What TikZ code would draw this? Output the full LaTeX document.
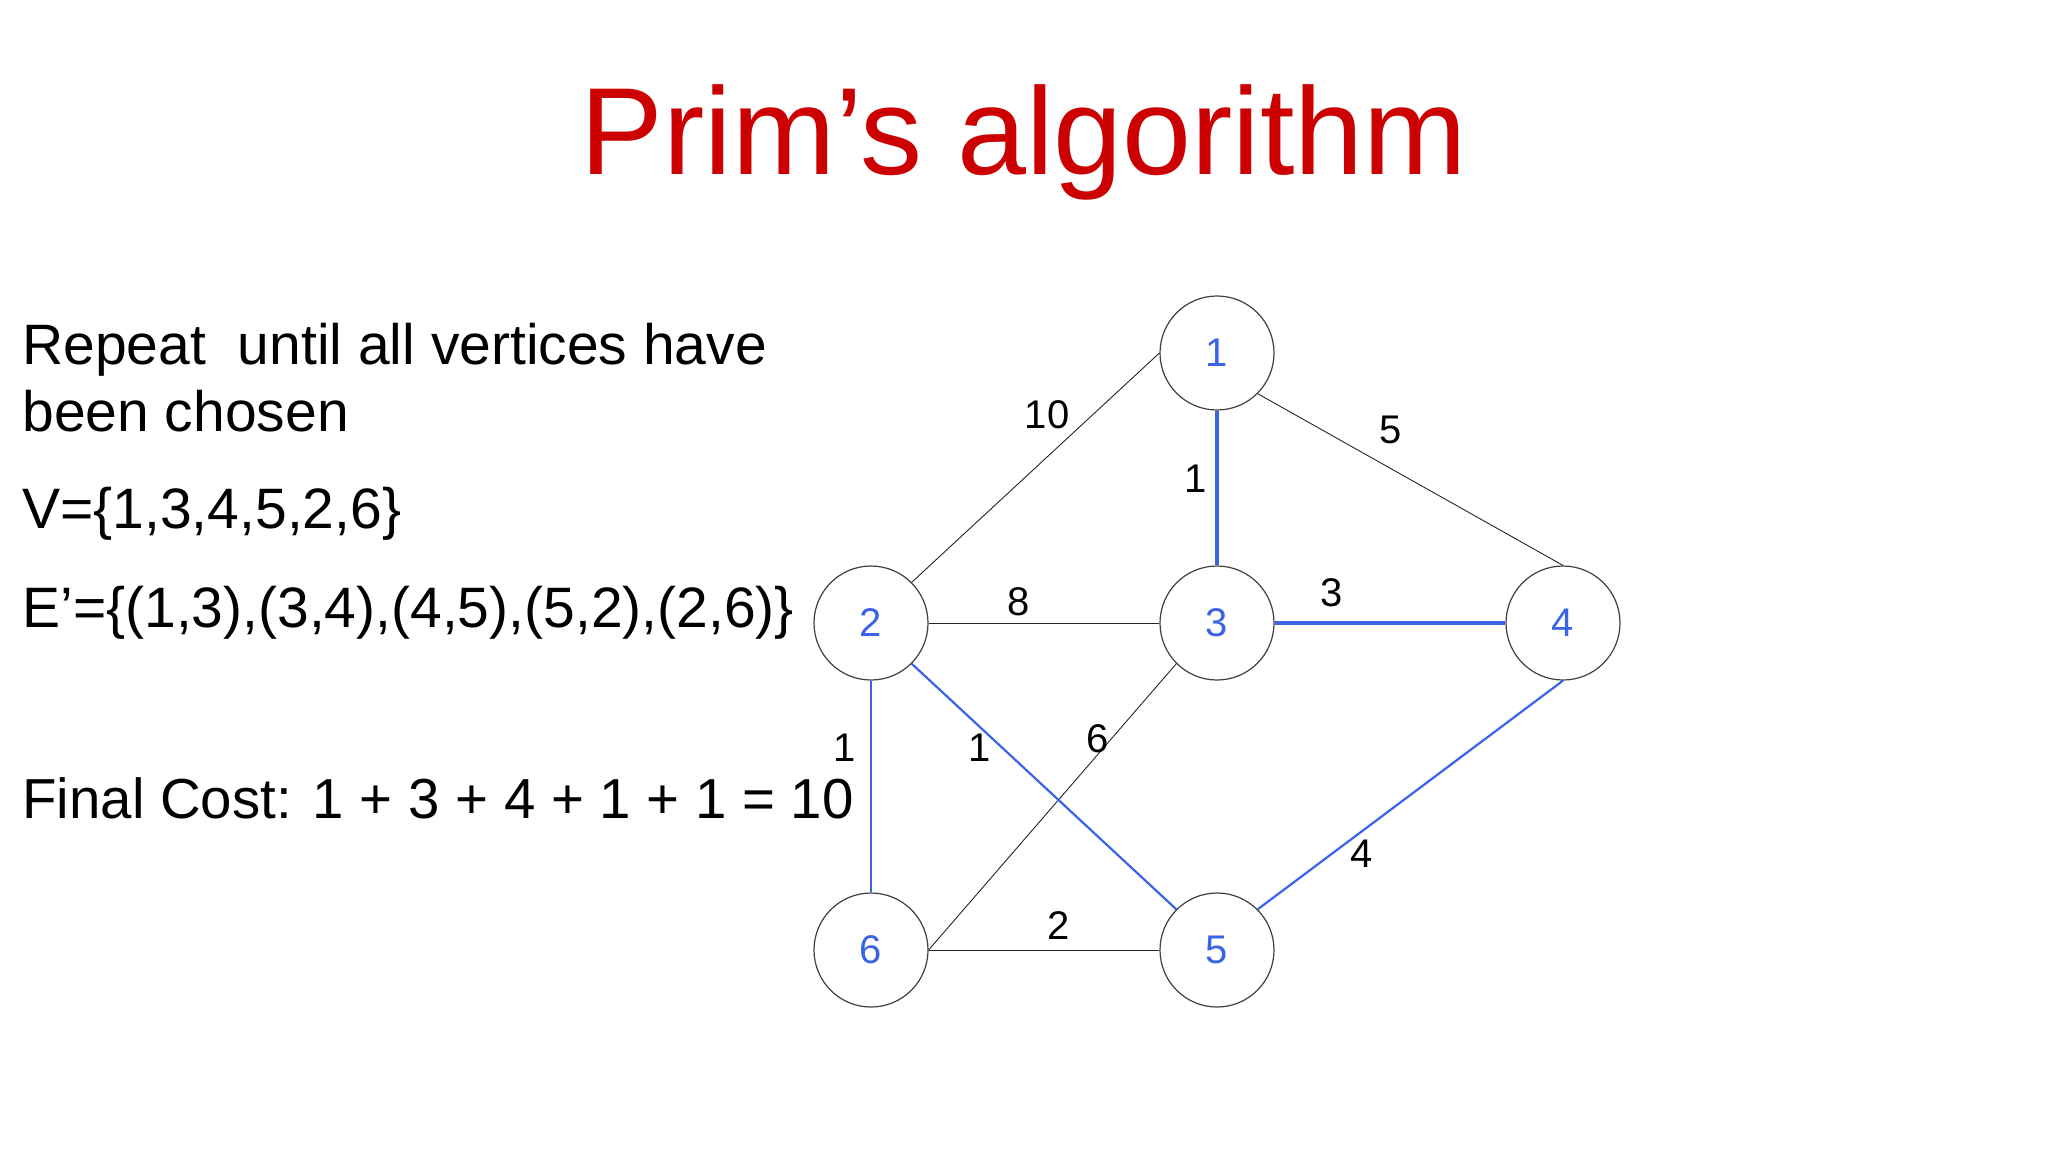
\documentclass[tikz,border=0pt]{standalone}
\usepackage{fontspec}
\setmainfont{Liberation Sans}
\definecolor{titlered}{RGB}{204,0,0}
\definecolor{nblue}{RGB}{59,99,232}
\begin{document}
\begin{tikzpicture}[x=0.5pt,y=-0.5pt,
  vert/.style={circle,draw=black!75,line width=0.6pt,minimum size=57pt,inner sep=0pt,text=nblue,font=\fontsize{20}{24}\selectfont},
  wlab/.style={inner sep=0pt,font=\fontsize{20}{24}\selectfont},
  body/.style={anchor=base west,inner sep=0pt,font=\fontsize{28.5}{34}\selectfont},
  light/.style={line width=0.45pt,draw=black!85},
  mst/.style={line width=1.1pt,draw=nblue},
  heavy/.style={line width=1.9pt,draw=nblue}]
\useasboundingbox (0,0) rectangle (2048,1152);
\fill[white] (0,0) rectangle (2048,1152);
% title
\node[anchor=base,inner sep=0pt,text=titlered,font=\fontsize{62}{70}\selectfont] (title) at (1024,174) {Prim’s algorithm};
% left text
\node[body] (t1) at (22,364) {Repeat\ \ until all vertices have};
\node[body] (t2) at (22,431) {been chosen};
\node[body] (t3) at (22,528) {V=\{1,3,4,5,2,6\}};
\node[body] (t4) at (22,627) {E’=\{(1,3),(3,4),(4,5),(5,2),(2,6)\}};
\node[body,font=\fontsize{28.2}{34}\selectfont] (t5) at (22,818) {Final Cost: 1 + 3 + 4 + 1 + 1 = 10};
% vertices
\node[vert] (n1) at (1217,353) {1};
\node[vert] (n2) at (871,623) {2};
\node[vert] (n3) at (1217,623) {3};
\node[vert] (n4) at (1563,623) {4};
\node[vert] (n5) at (1217,950) {5};
\node[vert] (n6) at (871,950) {6};
% edges
\draw[light] (n1.west) -- (n2.north east);
\draw[light] (n1.south east) -- (n4.north);
\draw[light] (n2.east) -- (n3.west);
\draw[light] (n3.south west) -- (n6.east);
\draw[light] (n6.east) -- (n5.west);
\draw[heavy] (n1.south) -- (n3.north);
\draw[heavy] (n3.east) -- (n4.west);
\draw[mst] (n2.south) -- (n6.north);
\draw[mst] (n2.south east) -- (n5.north west);
\draw[mst] (n4.south) -- (n5.north east);
% weights
\node[wlab] (w12) at (1047,415) {10};
\node[wlab] (w14) at (1391,430) {5};
\node[wlab] (w13) at (1196,479) {1};
\node[wlab] (w23) at (1019,602) {8};
\node[wlab] (w34) at (1332,593) {3};
\node[wlab] (w26) at (845,748) {1};
\node[wlab] (w25) at (980,748) {1};
\node[wlab] (w36) at (1098,739) {6};
\node[wlab] (w45) at (1362,854) {4};
\node[wlab] (w65) at (1059,926) {2};
\end{tikzpicture}
\end{document}
